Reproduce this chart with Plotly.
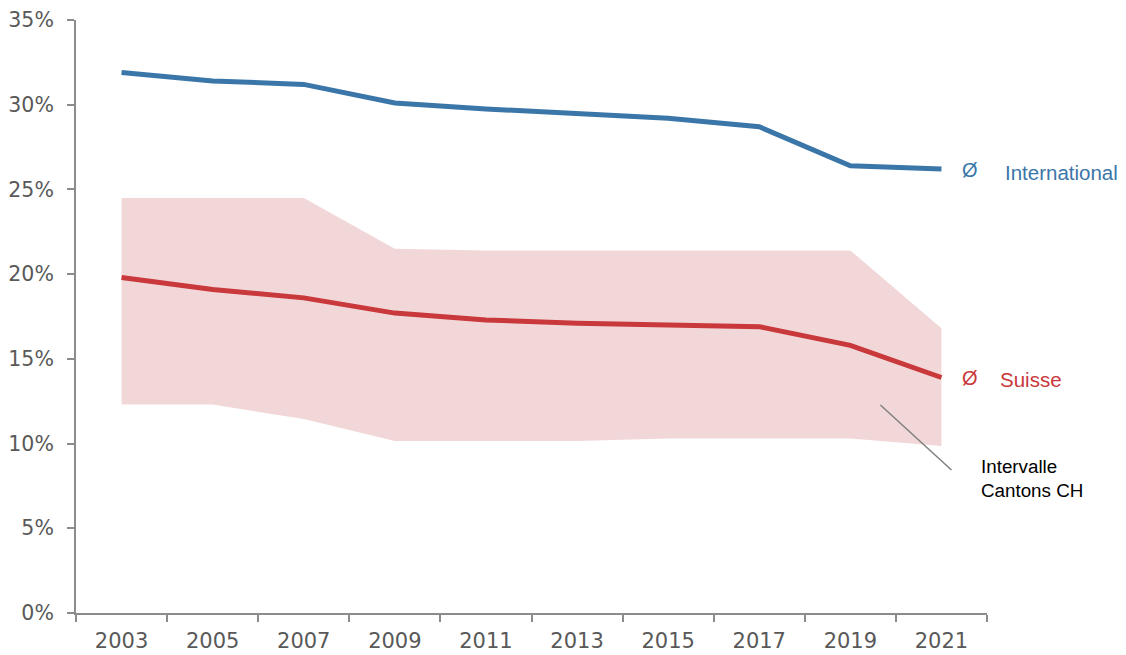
import plotly.graph_objects as go

years = ["2003", "2005", "2007", "2009", "2011", "2013", "2015", "2017", "2019", "2021"]
international = [31.9, 31.4, 31.2, 30.1, 29.75, 29.5, 29.2, 28.7, 26.4, 26.2]
suisse = [19.8, 19.1, 18.6, 17.7, 17.3, 17.1, 17.0, 16.9, 15.8, 13.9]
band_low = [12.3, 12.3, 11.45, 10.15, 10.15, 10.15, 10.3, 10.3, 10.3, 9.85]
band_high = [24.5, 24.5, 24.5, 21.5, 21.4, 21.4, 21.4, 21.4, 21.4, 16.8]
y_ticks = [0, 5, 10, 15, 20, 25, 30, 35]
y_tick_labels = ["0%", "5%", "10%", "15%", "20%", "25%", "30%", "35%"]

BLUE = "#3A76A8"
RED = "#C9383B"
BAND = "#F2D7D8"
GREY_TXT = "#595959"
AXIS = "#8C8C8C"
TICK_FONT = "DejaVu Sans"
TXT_FONT = "Liberation Sans"

fig = go.Figure()
fig.add_trace(go.Scatter(x=years, y=band_low, mode="lines", line=dict(width=0),
                         hoverinfo="skip", showlegend=False))
fig.add_trace(go.Scatter(x=years, y=band_high, mode="lines", line=dict(width=0),
                         fill="tonexty", fillcolor=BAND, showlegend=False))
fig.add_trace(go.Scatter(x=years, y=suisse, mode="lines",
                         line=dict(color=RED, width=5), showlegend=False))
fig.add_trace(go.Scatter(x=years, y=international, mode="lines",
                         line=dict(color=BLUE, width=5), showlegend=False))

ann = []
ann.append(dict(x=0.981, y=international[-1] - 0.05, xref="paper", yref="y", text="Ø",
                showarrow=False, xanchor="center", font=dict(color=BLUE, size=20, family=TXT_FONT)))
ann.append(dict(x=1.0171, y=international[-1] - 0.22, xref="paper", yref="y", text="International",
                showarrow=False, xanchor="left", font=dict(color=BLUE, size=20.5, family=TXT_FONT)))
ann.append(dict(x=0.981, y=suisse[-1] - 0.05, xref="paper", yref="y", text="Ø",
                showarrow=False, xanchor="center", font=dict(color=RED, size=20, family=TXT_FONT)))
ann.append(dict(x=1.0116, y=suisse[-1] - 0.12, xref="paper", yref="y", text="Suisse",
                showarrow=False, xanchor="left", font=dict(color=RED, size=20.5, family=TXT_FONT)))
ann.append(dict(x=0.991, y=7.95, xref="paper", yref="y", text="Intervalle<br>Cantons CH",
                showarrow=False, xanchor="left", align="left",
                font=dict(color="#000000", size=18.8, family=TXT_FONT)))

fig.add_shape(type="line", xref="x", yref="y", x0=8.33, y0=12.28, x1=9.11, y1=8.44,
              line=dict(color="#7F7F7F", width=1.5))

fig.update_layout(
    width=1118, height=647,
    margin=dict(l=68, r=139, t=12, b=42),
    paper_bgcolor="white", plot_bgcolor="white",
    annotations=ann,
    font=dict(family=TICK_FONT, color=GREY_TXT, size=21),
)
fig.update_xaxes(type="category", range=[-0.5, 9.5], showgrid=False, showline=True,
                 linecolor=AXIS, linewidth=2, ticks="outside", tickson="boundaries",
                 ticklen=7, tickcolor=AXIS, tickwidth=2, automargin=False,
                 ticklabelstandoff=8,
                 tickfont=dict(size=21, color=GREY_TXT, family=TICK_FONT), zeroline=False)
fig.update_yaxes(range=[0, 35], tickmode="array", tickvals=y_ticks, ticktext=y_tick_labels,
                 showgrid=False, automargin=False, ticklabelstandoff=9,
                 showline=True, linecolor=AXIS, linewidth=2, ticks="outside",
                 ticklen=7, tickcolor=AXIS, tickwidth=2, zeroline=False,
                 tickfont=dict(size=20.5, color=GREY_TXT, family=TICK_FONT))

fig.write_html("out.html")
